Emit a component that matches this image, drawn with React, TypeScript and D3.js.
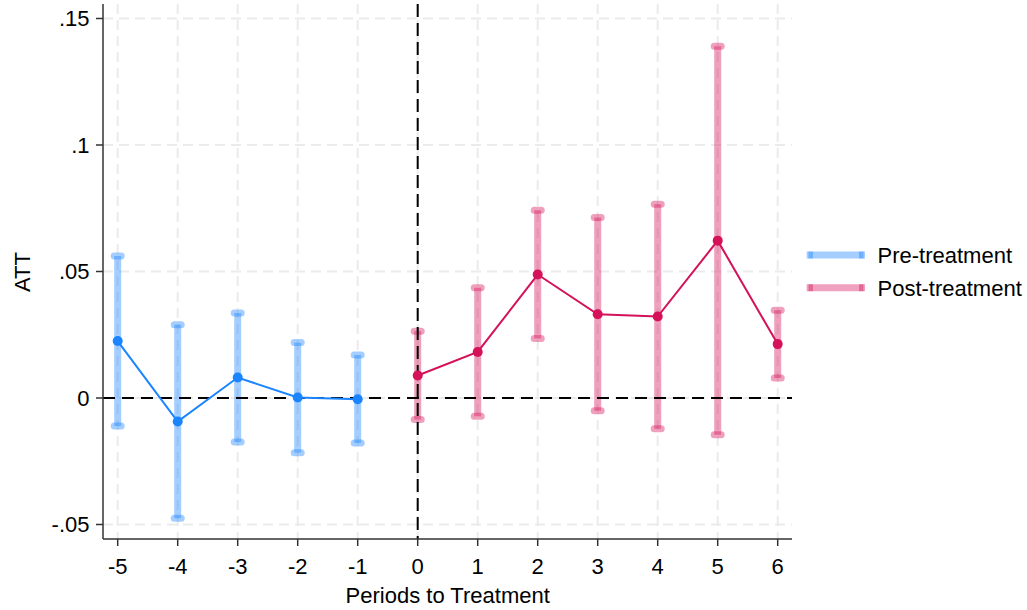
import React from "react";
import * as d3 from "d3";

const prePeriods = [-5, -4, -3, -2, -1];
const preATT = [0.0225, -0.0093, 0.0081, 0.0002, -0.0005];
const preLower = [-0.0111, -0.0475, -0.0174, -0.0216, -0.0178];
const preUpper = [0.0561, 0.029, 0.0336, 0.0219, 0.017];

const postPeriods = [0, 1, 2, 3, 4, 5, 6];
const postATT = [0.0089, 0.0182, 0.0488, 0.0331, 0.0322, 0.0622, 0.0213];
const postLower = [-0.0085, -0.0072, 0.0235, -0.005, -0.0122, -0.0145, 0.0079];
const postUpper = [0.0264, 0.0436, 0.0742, 0.0713, 0.0766, 0.139, 0.0347];

const xTicks = [-5, -4, -3, -2, -1, 0, 1, 2, 3, 4, 5, 6];
const yTicks = [-0.05, 0, 0.05, 0.1, 0.15];
const yTickLabels = ["-.05", "0", ".05", ".1", ".15"];

const legendLabels = ["Pre-treatment", "Post-treatment"];

const W = 1027;
const H = 610;
const left = 103;
const right = 792;
const top = 4;
const bottom = 539;

const preColor = "#1a85ff";
const postColor = "#d41159";
const font = "'Liberation Sans', Arial, sans-serif";
const fs = 22;

export default function App() {
  const x = d3.scaleLinear().domain([-5, 6]).range([117.7, 777.7]);
  const y = d3.scaleLinear().domain([-0.05, 0.15]).range([524.5, 18.5]);

  const line = d3
    .line<[number, number]>()
    .x((d) => x(d[0]))
    .y((d) => y(d[1]));

  const series = [
    { p: prePeriods, v: preATT, lo: preLower, hi: preUpper, c: preColor },
    { p: postPeriods, v: postATT, lo: postLower, hi: postUpper, c: postColor },
  ];

  const capHalf = 3.5;

  return (
    <svg width={W} height={H} style={{ position: "absolute", left: 0, top: 0, background: "#fff" }}>
      <rect x={0} y={0} width={W} height={H} fill="#fff" />
      {/* grid */}
      <g stroke="#ebebeb" strokeWidth={2} strokeDasharray="10,6">
        {xTicks.map((t) => (
          <line key={"gx" + t} x1={x(t)} x2={x(t)} y1={top} y2={bottom} />
        ))}
        {yTicks.map((t) => (
          <line key={"gy" + t} x1={left} x2={right} y1={y(t)} y2={y(t)} />
        ))}
      </g>
      {/* CIs */}
      {series.map((s, si) => (
        <g key={"ci" + si} stroke={s.c} strokeOpacity={0.4} strokeLinecap="round">
          {s.p.map((p, i) => (
            <g key={i}>
              <line x1={x(p)} x2={x(p)} y1={y(s.lo[i])} y2={y(s.hi[i])} strokeWidth={7} strokeLinecap="butt" />
              <line x1={x(p) - capHalf} x2={x(p) + capHalf} y1={y(s.hi[i])} y2={y(s.hi[i])} strokeWidth={7} />
              <line x1={x(p) - capHalf} x2={x(p) + capHalf} y1={y(s.lo[i])} y2={y(s.lo[i])} strokeWidth={7} />
            </g>
          ))}
        </g>
      ))}
      {/* reference lines */}
      <line x1={left} x2={right} y1={y(0)} y2={y(0)} stroke="#000" strokeWidth={2} strokeDasharray="12,7" />
      <line x1={x(0)} x2={x(0)} y1={top} y2={bottom} stroke="#000" strokeWidth={2} strokeDasharray="13,6" />
      {/* lines and points */}
      {series.map((s, si) => (
        <g key={"ln" + si}>
          <path
            d={line(s.p.map((p, i) => [p, s.v[i]] as [number, number])) || ""}
            fill="none"
            stroke={s.c}
            strokeWidth={2}
          />
          {s.p.map((p, i) => (
            <circle key={i} cx={x(p)} cy={y(s.v[i])} r={5} fill={s.c} />
          ))}
        </g>
      ))}
      {/* axes */}
      <g stroke="#333" strokeWidth={1.5}>
        <line x1={left} x2={left} y1={top} y2={bottom} />
        <line x1={left} x2={right} y1={bottom} y2={bottom} />
        {yTicks.map((t) => (
          <line key={"ty" + t} x1={left - 7} x2={left} y1={y(t)} y2={y(t)} />
        ))}
        {xTicks.map((t) => (
          <line key={"tx" + t} x1={x(t)} x2={x(t)} y1={bottom} y2={bottom + 7} />
        ))}
      </g>
      <g fontFamily={font} fontSize={fs} fill="#000">
        {yTicks.map((t, i) => (
          <text key={"yl" + t} x={89.5} y={y(t)} dy="0.36em" textAnchor="end">
            {yTickLabels[i]}
          </text>
        ))}
        {xTicks.map((t) => (
          <text key={"xl" + t} x={x(t)} y={573.5} textAnchor="middle">
            {String(t)}
          </text>
        ))}
        <text x={447.7} y={602.5} textAnchor="middle">
          Periods to Treatment
        </text>
        <text transform="translate(29.5,272) rotate(-90)" textAnchor="middle">
          ATT
        </text>
        {/* legend */}
        {legendLabels.map((lab, i) => {
          const ly = 255 + i * 32.7;
          const c = i === 0 ? preColor : postColor;
          return (
            <g key={lab}>
              <line x1={806.7} x2={865} y1={ly} y2={ly} stroke={c} strokeOpacity={0.4} strokeWidth={7} />
              <line x1={808.5} x2={813} y1={ly} y2={ly} stroke={c} strokeOpacity={0.4} strokeWidth={7} />
              <line x1={859} x2={863.5} y1={ly} y2={ly} stroke={c} strokeOpacity={0.4} strokeWidth={7} />
              <text x={877.5} y={ly} dy="0.36em">
                {lab}
              </text>
            </g>
          );
        })}
      </g>
    </svg>
  );
}
